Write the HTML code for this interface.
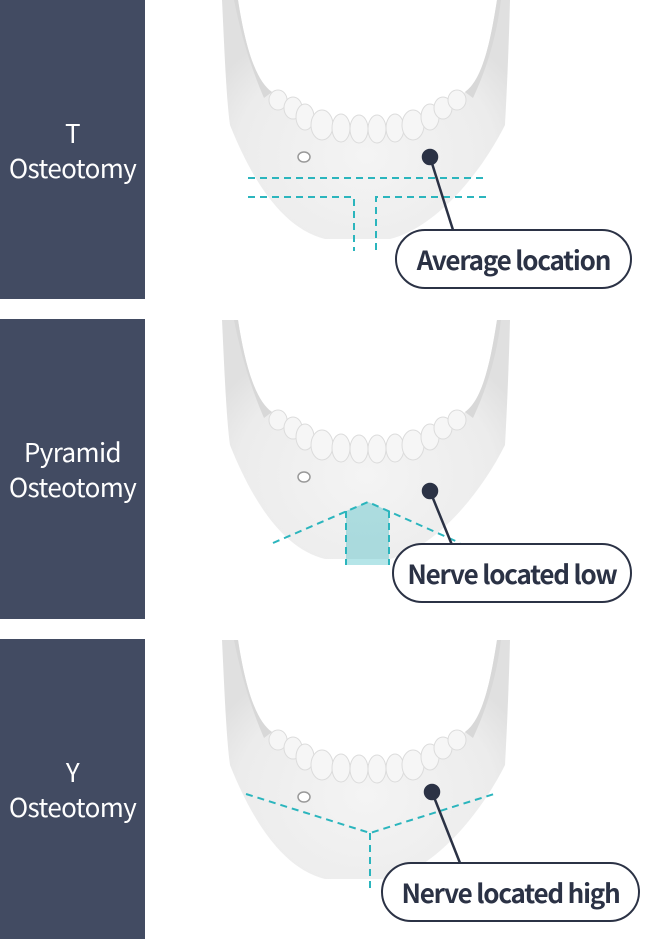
<!DOCTYPE html>
<html><head><meta charset="utf-8"><style>
body{margin:0;width:660px;height:939px;background:#fff;position:relative;overflow:hidden;font-family:"Liberation Sans","Noto Sans CJK KR",sans-serif}
.p{position:absolute;left:0;width:145px;background:#424b62;color:#fff;font-family:"Noto Sans CJK KR","Liberation Sans",sans-serif;font-size:26px;line-height:35px;text-align:center;display:flex;align-items:center;justify-content:center;letter-spacing:-0.6px}
svg{position:absolute;left:0;top:0}
.lbl{position:absolute;border:2px solid #2b3245;border-radius:31px;background:#fff;color:#2b3245;font-family:"Noto Sans CJK KR","Liberation Sans",sans-serif;font-weight:bold;font-size:26px;letter-spacing:-1.2px;display:flex;align-items:center;justify-content:center;box-sizing:border-box}
</style></head><body>
<div class="p" style="top:0;height:299px">T<br>Osteotomy</div>
<div class="p" style="top:319px;height:300px">Pyramid<br>Osteotomy</div>
<div class="p" style="top:639px;height:300px">Y<br>Osteotomy</div>
<svg width="660" height="939" viewBox="0 0 660 939">
<defs>
<radialGradient id="g" cx="0.5" cy="0.65" r="0.6"><stop offset="0" stop-color="#f4f4f4"/><stop offset="0.75" stop-color="#ececec"/><stop offset="1" stop-color="#e0e0e0"/></radialGradient>
<g id="jaw">
<path d="M222,0 C224,40 226,95 230,125 C250,175 280,228 325,239 L390,239 C435,228 480,175 505,125 C507,90 509,40 510,0 L497,0 C490,45 482,80 465,92 C430,135 310,135 272,92 C255,80 245,45 238,0 Z" fill="url(#g)"/>
<path d="M238,0 C245,45 255,80 272,92 L264,98 C252,70 242,40 234,0Z" fill="#d8d8d8"/>
<path d="M497,0 C490,45 482,80 465,92 L473,98 C486,70 496,40 501,0Z" fill="#d8d8d8"/>
<g fill="#f6f6f6" stroke="#dcdcdc" stroke-width="1">
<ellipse cx="278" cy="100" rx="9" ry="10"/><ellipse cx="293" cy="108" rx="9" ry="11"/>
<ellipse cx="305" cy="117" rx="9" ry="13"/><ellipse cx="322" cy="125" rx="11" ry="15"/>
<ellipse cx="341" cy="128" rx="9" ry="14"/><ellipse cx="359" cy="129" rx="9" ry="14"/>
<ellipse cx="377" cy="129" rx="9" ry="14"/><ellipse cx="395" cy="128" rx="9" ry="14"/>
<ellipse cx="413" cy="125" rx="11" ry="15"/><ellipse cx="430" cy="117" rx="9" ry="13"/>
<ellipse cx="443" cy="108" rx="9" ry="11"/><ellipse cx="457" cy="100" rx="9" ry="10"/>
</g>
<ellipse cx="304" cy="157" rx="6" ry="5" fill="#fff" stroke="#999" stroke-width="1.5"/>
</g>
</defs>
<use href="#jaw"/>
<use href="#jaw" transform="translate(0,320)"/>
<use href="#jaw" transform="translate(0,640)"/>
<g stroke="#2bb5bd" stroke-width="2" stroke-dasharray="7,5" fill="none">
<path d="M248,178 H486"/>
<path d="M248,197 H354 V251"/>
<path d="M486,197 H376 V251"/>
<path d="M273,543 L368,502 L460,543"/>
<path d="M346,511 V565 M389,511 V565"/>
<path d="M246,794 L370,833 L494,794 M370,833 V890"/>
</g>
<path d="M346,511 L368,502 L389,511 V565 H346Z" fill="#2bb5bd" opacity="0.35"/>
<g stroke="#2b3245" stroke-width="2.5" fill="#2b3245">
<line x1="430" y1="157" x2="453" y2="230"/><circle cx="430" cy="157" r="7"/>
<line x1="430" y1="491" x2="452" y2="545"/><circle cx="430" cy="491" r="7"/>
<line x1="432" y1="792" x2="460" y2="863"/><circle cx="432" cy="792" r="7"/>
</g>
</svg>
<div class="lbl" style="left:395px;top:229px;width:237px;height:60px">Average location</div>
<div class="lbl" style="left:392px;top:543px;width:240px;height:60px">Nerve located low</div>
<div class="lbl" style="left:381px;top:862px;width:259px;height:60px">Nerve located high</div>
</body></html>
